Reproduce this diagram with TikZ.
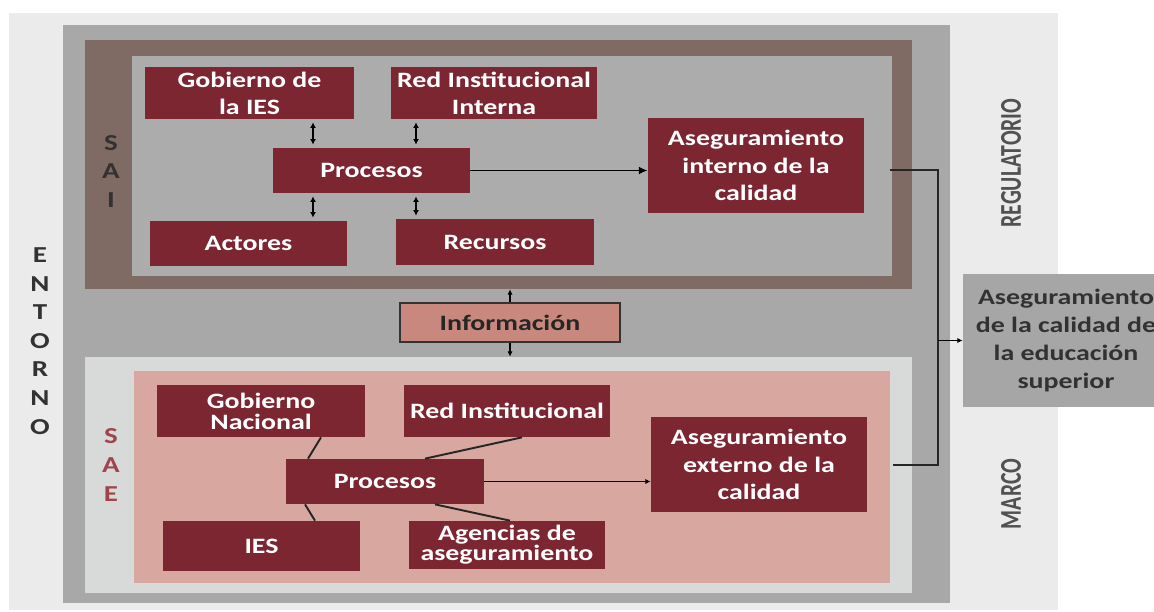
\documentclass[tikz,border=0pt]{standalone}
\usepackage{fontspec}
\setmainfont{Carlito}[FakeStretch=1.27]
\newfontfamily\rotfont{Carlito}[FakeStretch=0.72]
\usetikzlibrary{arrows.meta}
\definecolor{bglight}{RGB}{235,235,235}
\definecolor{entgray}{RGB}{168,168,168}
\definecolor{saibrown}{RGB}{127,106,100}
\definecolor{saigray}{RGB}{172,172,172}
\definecolor{saelight}{RGB}{216,218,218}
\definecolor{saepink}{RGB}{216,168,160}
\definecolor{boxred}{RGB}{124,38,50}
\definecolor{infopink}{RGB}{200,136,126}
\definecolor{asegray}{RGB}{166,166,166}
\definecolor{txtgray}{RGB}{50,50,50}
\definecolor{saered}{RGB}{160,70,75}

\begin{document}
\begin{tikzpicture}[x=0.02cm,y=-0.02cm,
	sz/.style 2 args={minimum width=#1*\pu,minimum height=#2*\pu,inner sep=0pt},
	box/.style={fill=boxred,text=white,align=center,font=\fontsize{12.5}{15.5}\selectfont\bfseries},
	letters/.style={align=center,inner sep=0pt,font=\fontsize{13}{16.3}\selectfont\bfseries},
	side/.style={rotate=90,inner sep=0pt,text=txtgray!85,font=\rotfont\fontsize{17.2}{18}\selectfont\bfseries},
	dbl/.style={{Latex[length=3.2pt,width=3.4pt]}-{Latex[length=3.2pt,width=3.4pt]},line width=1pt,shorten <=1.7pt,shorten >=1.7pt},
	arr/.style={-{Latex[length=5pt,width=4.5pt]},line width=1.1pt},
	arrs/.style={-{Latex[length=3pt,width=3pt]},line width=0.8pt},
	link/.style={line width=1.1pt,draw=black!85},
	conn/.style={line width=1.2pt,draw=black!85}]
		\def\pu{0.02cm}
		\useasboundingbox (0,0) rectangle (1154,612);
		% frames
		\node[fill=bglight,sz={1049}{597}] (bg) at (533.5,311.5) {};
		\node[fill=entgray,sz={887}{578}] (ent) at (506.5,314) {};
		\node[fill=saibrown,sz={827}{249}] (saiF) at (498.5,164.5) {};
		\node[fill=saigray,sz={760}{220}] (saiIn) at (512,166) {};
		\node[fill=saelight,sz={827}{236}] (saeF) at (498.5,475) {};
		\node[fill=saepink,sz={756}{212}] (saeIn) at (512,477) {};
		% side letters
		\node[letters,text=txtgray] (entorno) at (40,341) {E\\N\\T\\O\\R\\N\\O};
		\node[letters,text=txtgray] (saiL) at (111,171.5) {S\\A\\I};
		\node[letters,text=saered] (saeL) at (111,465) {S\\A\\E};
		\node[side] (reg) at (1011,163) {REGULATORIO};
		\node[side] (marco) at (1011,494) {MARCO};
		% SAI
		\node[box,sz={209}{52}] (gobI) at (249.5,93) {Gobierno de\\la IES};
		\node[box,sz={206}{52}] (redI) at (494,93) {Red Institucional\\Interna};
		\node[box,sz={197}{45}] (procI) at (371.5,170.5) {Procesos};
		\node[box,sz={197}{45}] (act) at (248.5,243.5) {Actores};
		\node[box,sz={198}{46}] (rec) at (495,242) {Recursos};
		\node[box,sz={216}{95}] (aseI) at (756,165.5) {Aseguramiento\\interno de la\\calidad};
		\draw[dbl] ([xshift=63.5*\pu]gobI.south) -- ([xshift=-58.5*\pu]procI.north);
		\draw[dbl] ([xshift=-78*\pu]redI.south) -- ([xshift=44.5*\pu]procI.north);
		\draw[dbl] ([xshift=-58.5*\pu]procI.south) -- ([xshift=64.5*\pu]act.north);
		\draw[dbl] ([xshift=44.5*\pu]procI.south) -- ([xshift=-79*\pu]rec.north);
		\draw[arr] (procI.east) -- (procI.east -| aseI.west);
		% information
		\node[fill=infopink,draw=black!80,line width=0.7pt,sz={220}{39},text=black!85,font=\fontsize{12.5}{15}\selectfont\bfseries] (info) at (510,322.5) {Información};
		\draw[arrs] (info.north) -- (info.north |- saiF.south);
		\draw[arrs] (info.south) -- (info.south |- saeF.north);
		% SAE
		\node[box,sz={208}{52},font=\fontsize{12.5}{12}\selectfont\bfseries] (gobN) at (261,411) {Gobierno\\Nacional};
		\node[box,sz={206}{52}] (redN) at (507,411) {Red Institucional};
		\node[box,sz={198}{45}] (procE) at (385,481.5) {Procesos};
		\node[box,sz={197}{50}] (ies) at (261.5,546) {IES};
		\node[box,sz={196}{48},font=\fontsize{12.5}{11.5}\selectfont\bfseries] (agen) at (507,545) {Agencias de\\aseguramiento};
		\node[box,sz={216}{95}] (aseE) at (759,464.5) {Aseguramiento\\externo de la\\calidad};
		\draw[link] ([xshift=60*\pu]gobN.south) -- ([xshift=-77*\pu]procE.north);
		\draw[link] ([xshift=15*\pu]redN.south) -- ([xshift=40*\pu]procE.north);
		\draw[link] ([xshift=-80*\pu]procE.south) -- ([xshift=53.5*\pu]ies.north);
		\draw[link] ([xshift=50*\pu]procE.south) -- ([xshift=3*\pu]agen.north);
		\draw[arrs,line width=0.9pt] (procE.east) -- (procE.east -| aseE.west);
		% result
		\node[fill=asegray,sz={206}{133},align=center,text=txtgray,font=\fontsize{12.5}{15.9}\selectfont\bfseries] (aseg) at (1066,340.5) {Aseguramiento\\de la calidad de\\la educación\\superior};
		\coordinate (busI) at (938,170);
		\coordinate (busE) at (938,465);
		\draw[conn,shorten <=26*\pu,shorten >=26*\pu] (aseI.east |- busI) -- (busI) -- (busE) -- (aseE.east |- busE);
		\draw[arrs,line width=1pt] (busI |- aseg.west) -- (aseg.west);
	\end{tikzpicture}
\end{document}
